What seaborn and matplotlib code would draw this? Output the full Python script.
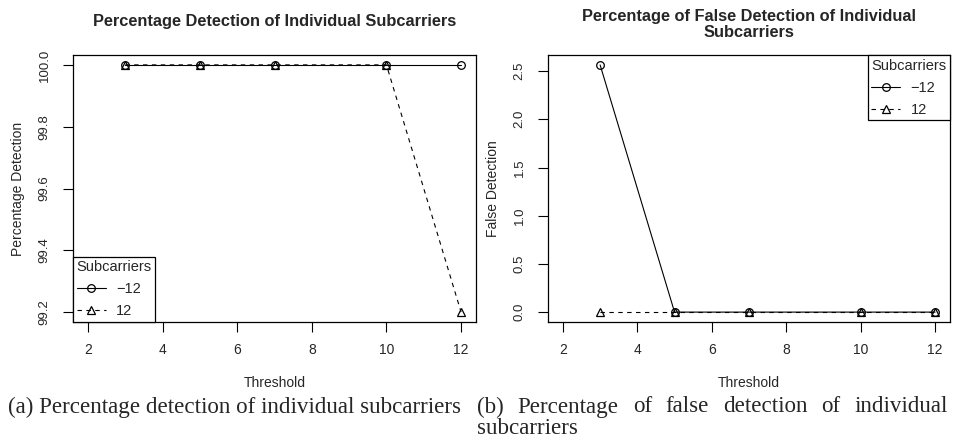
import numpy as np
import pandas as pd
import matplotlib
matplotlib.use("Agg")
import matplotlib.pyplot as plt
import seaborn as sns

# data
thresholds = [3, 5, 7, 10, 12]
detect_neg12 = [100.0, 100.0, 100.0, 100.0, 100.0]
detect_pos12 = [100.0, 100.0, 100.0, 100.0, 99.2]
false_neg12 = [2.564, 0.0, 0.0, 0.0, 0.0]
false_pos12 = [0.0, 0.0, 0.0, 0.0, 0.0]
series_labels = ["\u221212", "12"]

sns.set_style("white")
plt.rcParams["font.family"] = ["Liberation Sans", "DejaVu Sans"]
plt.rcParams["font.size"] = 10

fig = plt.figure(figsize=(9.55, 4.45), dpi=100)
ax1 = fig.add_axes([73 / 955, 1 - 322 / 445, 403 / 955, 267 / 445])
ax2 = fig.add_axes([548 / 955, 1 - 322 / 445, 402 / 955, 267 / 445])

line_kw = dict(color="black", linewidth=0.8, markersize=5.5,
               markerfacecolor="none", markeredgecolor="black", markeredgewidth=0.9)


def draw(ax, neg, pos, ylim, yticks, loc):
    d = pd.DataFrame({"Threshold": thresholds, "neg": neg, "pos": pos})
    sns.lineplot(data=d, x="Threshold", y="neg", ax=ax, marker="o", linestyle="-", **line_kw)
    sns.lineplot(data=d, x="Threshold", y="pos", ax=ax, marker="^", linestyle=(0, (4, 4)), **line_kw)
    ax.set_xlim(1.6, 12.4)
    ax.set_ylim(*ylim)
    ax.set_xticks([2, 4, 6, 8, 10, 12])
    ax.set_yticks(yticks)
    ax.set_yticklabels([f"{v:.1f}" for v in yticks], rotation=90, va="center")
    ax.tick_params(axis="both", direction="out", length=7, width=0.8, color="black",
                   labelsize=10, bottom=True, left=True)
    ax.tick_params(axis="x", pad=8)
    ax.tick_params(axis="y", pad=9, labelsize=9.5)
    for s in ax.spines.values():
        s.set_color("black")
        s.set_linewidth(0.9)
    ax.set_xlabel("Threshold", fontsize=10, labelpad=14)
    lines = ax.get_lines()[:2]
    leg = ax.legend(lines, series_labels, title="Subcarriers", loc=loc, borderaxespad=0,
                    fancybox=False, edgecolor="black", framealpha=1, fontsize=10.5,
                    title_fontsize=10.5, handlelength=2.0, handletextpad=0.7,
                    alignment="left", borderpad=0.25, labelspacing=0.55)
    leg.get_frame().set_linewidth(0.9)


draw(ax1, detect_neg12, detect_pos12, (99.168, 100.032),
     [99.2, 99.4, 99.6, 99.8, 100.0], "lower left")
draw(ax2, false_neg12, false_pos12, (-0.1026, 2.667),
     [0.0, 0.5, 1.0, 1.5, 2.0, 2.5], "upper right")

ax1.set_ylabel("Percentage Detection", fontsize=10, labelpad=10)
ax2.set_ylabel("False Detection", fontsize=10, labelpad=10)
ax1.set_title("Percentage Detection of Individual Subcarriers",
              fontsize=11.8, fontweight="bold", pad=21)
ax2.set_title("Percentage of False Detection of Individual\nSubcarriers",
              fontsize=11.8, fontweight="bold", pad=13, linespacing=1.05)

# captions
serif = ["Liberation Serif", "DejaVu Serif"]
cap_size = 16.6
fig.text(8 / 955, 1 - 407 / 445, "(a) Percentage detection of individual subcarriers",
         family=serif, fontsize=cap_size, ha="left", va="center")

words = "(b) Percentage of false detection of individual".split()
fig.canvas.draw()
renderer = fig.canvas.get_renderer()
texts = [fig.text(0, 1 - 407 / 445, w, family=serif, fontsize=cap_size, ha="left", va="center")
         for w in words]
widths = [t.get_window_extent(renderer).width for t in texts]
x0, x1 = 477, 948
gap = (x1 - x0 - sum(widths)) / (len(words) - 1)
x = x0
for t, w in zip(texts, widths):
    t.set_x(x / 955)
    x += w + gap
fig.text(x0 / 955, 1 - 429 / 445, "subcarriers", family=serif, fontsize=cap_size,
         ha="left", va="center")

fig.savefig("out.png", dpi=100, facecolor="white")
